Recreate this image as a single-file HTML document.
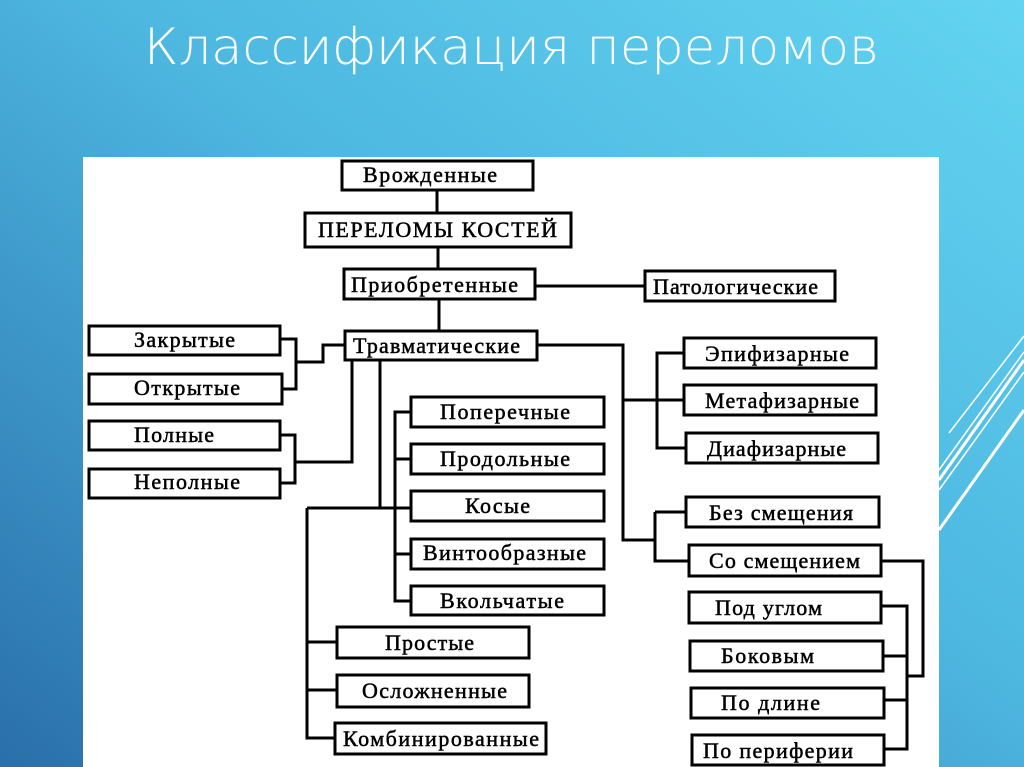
<!DOCTYPE html>
<html><head><meta charset="utf-8"><style>
html,body{margin:0;padding:0;width:1024px;height:767px;overflow:hidden}
svg{display:block}
</style></head><body>
<svg width="1024" height="767" viewBox="0 0 1024 767" xmlns="http://www.w3.org/2000/svg">
<defs>
<linearGradient id="bg" x1="1" y1="0" x2="0" y2="1">
<stop offset="0" stop-color="#63d4f1"/>
<stop offset="0.45" stop-color="#4db7e0"/>
<stop offset="1" stop-color="#2a6fab"/>
</linearGradient>
</defs>
<rect width="1024" height="767" fill="url(#bg)"/>
<g stroke="#fff" fill="none">
<line x1="949" y1="433" x2="1024" y2="336" stroke-width="1.5"/>
<line x1="939" y1="480" x2="1024" y2="360" stroke-width="3"/>
<line x1="939" y1="470" x2="1024" y2="352" stroke-width="1.5"/>
<line x1="939" y1="490" x2="1024" y2="372" stroke-width="1.5"/>
<line x1="939" y1="530" x2="1024" y2="410" stroke-width="3"/>
</g>
<text x="144" y="64" fill="#fff" font-family="DejaVu Sans, Liberation Sans, sans-serif" font-size="50" font-weight="200" textLength="735" lengthAdjust="spacingAndGlyphs">Классификация переломов</text>
<rect x="83" y="157" width="856" height="610" fill="#fff"/>
<g stroke="#000" stroke-width="3" fill="none">
<path d="M437 190V213M438 247V269M439 299V331M535 286H646"/>
<path d="M344 345H323V362H296M280 339H296V389H282"/>
<path d="M280 435H295V483H280M295 462H352V360"/>
<path d="M380 360V508M307 508H411M307 508V738H335M307 642H337M307 690H337"/>
<path d="M411 412H395V601H411M395 459H411M395 554H411"/>
<path d="M537 345H623V540H655M623 400H684M684 353H657V448H686M655 512H686M655 512V561H689"/>
<path d="M881 561H923V676H907M881 606H907V749H884M883 656H907M884 700H907"/>
</g>
<g stroke="#000" stroke-width="3" fill="#fff">
<rect x="342" y="161" width="191" height="29"/>
<rect x="305" y="213" width="266" height="34"/>
<rect x="344" y="269" width="191" height="30"/>
<rect x="645" y="271" width="190" height="30"/>
<rect x="345" y="331" width="192" height="29"/>
<rect x="89" y="326" width="191" height="29"/>
<rect x="89" y="374" width="193" height="30"/>
<rect x="89" y="421" width="191" height="29"/>
<rect x="89" y="469" width="191" height="29"/>
<rect x="411" y="397" width="193" height="30"/>
<rect x="411" y="444" width="193" height="30"/>
<rect x="411" y="491" width="193" height="30"/>
<rect x="411" y="539" width="193" height="30"/>
<rect x="411" y="586" width="193" height="29"/>
<rect x="337" y="627" width="192" height="31"/>
<rect x="337" y="675" width="192" height="32"/>
<rect x="335" y="723" width="211" height="31"/>
<rect x="684" y="338" width="192" height="30"/>
<rect x="684" y="385" width="192" height="30"/>
<rect x="686" y="433" width="192" height="30"/>
<rect x="686" y="497" width="193" height="30"/>
<rect x="689" y="545" width="192" height="31"/>
<rect x="689" y="592" width="192" height="31"/>
<rect x="690" y="641" width="193" height="30"/>
<rect x="691" y="688" width="193" height="30"/>
<rect x="692" y="735" width="192" height="30"/>
</g>
<g font-family="Liberation Serif, serif" font-size="22" fill="#000" stroke="#000" stroke-width="0.5" lengthAdjust="spacingAndGlyphs">
<text x="363" y="182" textLength="134">Врожденные</text>
<text x="318" y="237" textLength="239">ПЕРЕЛОМЫ КОСТЕЙ</text>
<text x="351" y="292" textLength="167">Приобретенные</text>
<text x="653" y="294" textLength="165">Патологические</text>
<text x="353" y="353" textLength="167">Травматические</text>
<text x="134" y="347" textLength="101">Закрытые</text>
<text x="134" y="395" textLength="106">Открытые</text>
<text x="134" y="442" textLength="80">Полные</text>
<text x="134" y="489" textLength="106">Неполные</text>
<text x="440" y="419" textLength="130">Поперечные</text>
<text x="440" y="466" textLength="130">Продольные</text>
<text x="465" y="513" textLength="65">Косые</text>
<text x="423" y="560" textLength="163">Винтообразные</text>
<text x="440" y="608" textLength="124">Вкольчатые</text>
<text x="385" y="650" textLength="89">Простые</text>
<text x="362" y="698" textLength="145">Осложненные</text>
<text x="343" y="746" textLength="196">Комбинированные</text>
<text x="705" y="361" textLength="144">Эпифизарные</text>
<text x="705" y="408" textLength="154">Метафизарные</text>
<text x="707" y="456" textLength="139">Диафизарные</text>
<text x="709" y="520" textLength="144">Без смещения</text>
<text x="709" y="568" textLength="151">Со смещением</text>
<text x="715" y="615" textLength="107">Под углом</text>
<text x="721" y="663" textLength="93">Боковым</text>
<text x="721" y="710" textLength="99">По длине</text>
<text x="703" y="758" textLength="150">По периферии</text>
</g>
</svg>
</body></html>
